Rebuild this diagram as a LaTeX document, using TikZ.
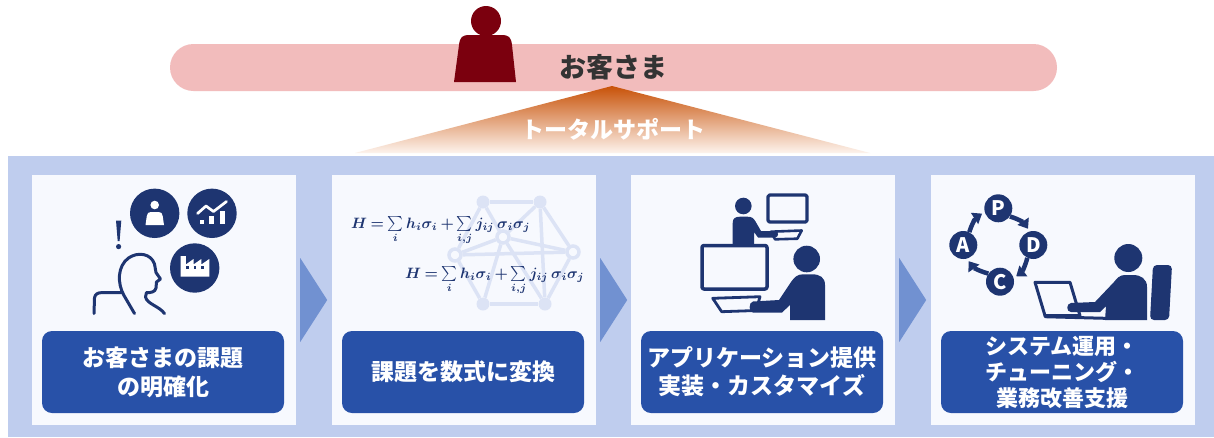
\documentclass[tikz,border=0pt]{standalone}
\usepackage{fontspec}
\usepackage{graphicx}
\newfontfamily\jpfont{Noto Sans CJK JP}
\usetikzlibrary{arrows.meta,calc}

\definecolor{bandblue}{RGB}{191,205,238}
\definecolor{panelbg}{RGB}{247,249,254}
\definecolor{labelblue}{RGB}{40,81,168}
\definecolor{navy}{RGB}{30,53,113}
\definecolor{chevblue}{RGB}{113,145,209}
\definecolor{netlight}{RGB}{220,227,245}
\definecolor{bannerpink}{RGB}{242,188,188}
\definecolor{custred}{RGB}{123,0,14}
\definecolor{darktext}{RGB}{51,51,51}
\definecolor{supportorange}{RGB}{200,82,8}
\definecolor{supportfade}{RGB}{253,243,237}

% the Hamiltonian, set at 10pt with tight spacing and enlarged as a whole
\newcommand{\hamiltonian}{%
  \scalebox{1.5}{\boldmath\thickmuskip=3.5mu\medmuskip=3mu
  $H=\sum\limits_i h_i\sigma_i+\sum\limits_{i,j} j_{ij}\,\sigma_i\sigma_j$}}

\begin{document}
\begin{tikzpicture}[x=1pt,y=-1pt,
  banner/.style={fill=bannerpink, rounded corners=23.5pt, minimum width=887pt, minimum height=47pt, inner sep=0pt, text=darktext, font=\jpfont\bfseries\fontsize{27}{30}\selectfont},
  panel/.style={fill=panelbg, minimum width=264pt, minimum height=250pt, inner sep=0pt},
  labelbox/.style={fill=labelblue, rounded corners=10pt, minimum width=242pt, minimum height=82pt, inner sep=0pt, text=white, align=center, font=\jpfont\bfseries\fontsize{23}{29}\selectfont},
  chevron/.style={fill=chevblue},
  icon/.style={fill=navy},
  iconline/.style={draw=navy, line cap=round, line join=round},
  netdot/.style={circle, fill=netlight, minimum size=13pt, inner sep=0pt},
  netring/.style={circle, draw=netlight, line width=3.5pt, fill=panelbg, minimum size=12pt, inner sep=0pt},
  netedge/.style={draw=netlight, line width=3.5pt},
  formula/.style={text=navy, inner sep=0pt, font=\fontsize{10}{12}\selectfont},
  pdca/.style={circle, fill=navy, minimum size=28pt, inner sep=0pt, text=white, font=\jpfont\bfseries\fontsize{20}{20}\selectfont},
  pdcaarrow/.style={draw=navy, line width=4.5pt, -{Triangle[length=9pt,width=13pt]}, shorten >=3pt},
  supporttext/.style={text=white, font=\jpfont\bfseries\fontsize{23}{26}\selectfont}
]
\useasboundingbox (0,0) rectangle (1214,437);
\fill[white] (0,0) rectangle (1214,437);

% ---------- customer banner ----------
\node[banner] (customer) at (613.5,67.5) {お客さま};
\fill[custred] (486,21) circle (15);
\fill[custred] (454,82) -- (459,45) .. controls (460,37) and (462,35) .. (470,35)
  -- (501,35) .. controls (509,35) and (511,37) .. (512,45) -- (516,82) -- cycle;

% ---------- total support wedge ----------
\shade[top color=supportorange, bottom color=supportfade] (612,86) -- (870,153) -- (355,153) -- cycle;
\node[supporttext] (support) at (613,129) {トータルサポート};

% ---------- band and panels ----------
\fill[bandblue] (8,155.5) rectangle (1214,437);
\node[panel] (p1) at (164,300) {};
\node[panel] (p2) at (464,300) {};
\node[panel] (p3) at (763,300) {};
\node[panel] (p4) at (1063,300) {};

\foreach \p in {p1,p2,p3}
  \fill[chevron] ($(\p.east)+(4,-42)$) -- ($(\p.east)+(31,0)$) -- ($(\p.east)+(4,42)$) -- cycle;

% ---------- panel 1: customer with issues ----------
\fill[icon] (154.7,213.3) circle (24.7);
\fill[icon] (212,213.3) circle (24.7);
\fill[icon] (194.7,268) circle (24.7);
% person badge
\fill[white] (154.7,205) circle (4.3);
\fill[white] (145.5,225) -- (146.8,216) .. controls (147.2,213) and (148.5,212) .. (151,212)
  -- (158.5,212) .. controls (161,212) and (162.3,213) .. (162.7,216) -- (164,225) -- cycle;
% chart badge
\draw[white, line width=2.7pt, line cap=round, line join=round] (197.5,213.5) -- (206,206) -- (213.5,211.5) -- (226.5,201.5);
\fill[white] (200,219.8) rectangle (204.4,224.3);
\fill[white] (209.2,215.8) rectangle (214.2,224.3);
\fill[white] (220,210.5) rectangle (225.2,224.3);
% factory badge
\fill[white] (180.7,276.7) -- (180.7,256) -- (185.8,256) -- (185.8,264.5) -- (193.5,259) -- (193.5,264.5)
  -- (201.3,259) -- (201.3,264.5) -- (209.3,259) -- (209.3,276.7) -- cycle;
\fill[navy] (186,266.4) rectangle (188.7,269.1);
\fill[navy] (193.7,266.4) rectangle (196.4,269.1);
\fill[navy] (201.4,266.4) rectangle (204.1,269.1);
% exclamation
\fill[navy] (116,220.5) -- (121.3,220.5) -- (119.6,241) -- (117.7,241) -- cycle;
\fill[navy] (118.6,246.6) circle (2.6);
% thinking person outline
\draw[iconline, line width=3pt] (94,313.5) -- (94.5,298) .. controls (95,294.2) and (97.5,292.6) .. (102,292.6) -- (122,292.6);
\draw[iconline, line width=3pt] (134.5,313.5) -- (124,295.5) .. controls (117,283) and (117.5,266) .. (128.5,258)
  .. controls (138,251.5) and (151,253.5) .. (154.5,264) -- (156,272.5) -- (160.5,279) -- (156.5,282)
  -- (156,288) .. controls (155.3,291.8) and (151,293) .. (146.5,292.5) -- (145.5,297)
  .. controls (147,304) and (159,306) .. (164.5,313.5);
\node[labelbox] (l1) at (163,372) {お客さまの課題\\の明確化};

% ---------- panel 2: issue as a formula ----------
\node[netdot] (na) at (483,202) {};
\node[netdot] (nb) at (540,202) {};
\node[netring] (nc) at (503,237) {};
\node[netring] (nd) at (455,255) {};
\node[netring] (ne) at (573,252) {};
\node[netdot] (nf) at (483,304) {};
\node[netdot] (ng) at (545,304) {};
\foreach \u/\v in {na/nb,na/nc,nb/nc,na/nd,nb/ne,nc/nd,nc/ne,nd/ne,nd/nf,ne/ng,nf/ng,nc/nf,nc/ng,nb/ng}
  \draw[netedge] (\u) -- (\v);
\node[formula, anchor=base west] (eq1) at (351,228) {\hamiltonian};
\node[formula, anchor=base west] (eq2) at (405,278) {\hamiltonian};
\node[labelbox] (l2) at (463,372) {課題を数式に変換};

% ---------- panel 3: application delivery ----------
\draw[iconline, line width=3.2pt, rounded corners=1.5pt] (768,195) rectangle (807,222);
\draw[iconline, line width=2.6pt] (771,231.7) -- (801.7,230.5) -- (797.3,238.7) -- (775,239.3) -- cycle;
\fill[icon] (743.3,206) circle (8.3);
\fill[icon] (732.7,245) -- (732.7,223) .. controls (732.7,218.5) and (735,216.7) .. (740,216.7)
  -- (747.5,216.7) .. controls (751.5,216.7) and (753.5,218) .. (755.5,221.5) -- (761,231)
  -- (775,231) .. controls (779,231) and (779,237.5) .. (775,237.5) -- (758,237.5) -- (754,232) -- (754,245) -- cycle;
\draw[iconline, line width=3.5pt, rounded corners=2pt, fill=panelbg] (702,245.5) rectangle (767,289);
\draw[iconline, line width=2.8pt] (712.7,298.3) -- (760,296.7) -- (756,310.5) -- (721.7,311.7) -- cycle;
\fill[icon] (806.7,259) circle (13.3);
\fill[icon] (825,320) -- (825,285) .. controls (825,277.5) and (820,274.3) .. (812,274.3)
  -- (803,274.3) .. controls (797.5,274.3) and (794.5,277) .. (791,282) -- (779,300)
  -- (753,301.5) .. controls (748.5,302) and (748.5,312.5) .. (753,312.5) -- (782,312.5)
  -- (790,305) -- (790,320) -- cycle;
\node[labelbox, font=\jpfont\bfseries\fontsize{23}{28}\selectfont] (l3) at (762,372) {アプリケーション提供\\実装・カスタマイズ};

% ---------- panel 4: operation and PDCA ----------
\node[pdca] (P) at (998.3,208.3) {P};
\node[pdca] (D) at (1033.3,245) {D};
\node[pdca] (C) at (1000,281.7) {C};
\node[pdca] (A) at (963.3,245) {A};
\draw[pdcaarrow] (P.-35) to[bend left=20] (D.105);
\draw[pdcaarrow] (D.-115) to[bend left=20] (C.15);
\draw[pdcaarrow] (C.145) to[bend left=20] (A.-75);
\draw[pdcaarrow] (A.65) to[bend left=20] (P.195);
\draw[iconline, line width=3pt] (1035,282.3) -- (1070,282.3) -- (1080,315.7) -- (1045,315.7) -- cycle;
\fill[icon, rounded corners=4pt] (1150,320) -- (1153,265) -- (1172,265) -- (1169,320) -- cycle;
\fill[icon] (1128.3,258) circle (14);
\fill[icon] (1147,320) -- (1147,287) .. controls (1147,279) and (1141,275) .. (1133,275)
  -- (1125,275) .. controls (1120,275) and (1117,278) .. (1114,282) -- (1095,302)
  -- (1071,303) .. controls (1066,303.5) and (1066,312) .. (1071,312) -- (1100,312)
  -- (1106,306) -- (1105,320) -- cycle;
\draw[iconline, line width=3pt] (1045,316.7) -- (1105,318.3);
\node[labelbox, font=\jpfont\bfseries\fontsize{22}{26}\selectfont] (l4) at (1062,372) {システム運用・\\チューニング・\\業務改善支援};
\end{tikzpicture}
\end{document}
